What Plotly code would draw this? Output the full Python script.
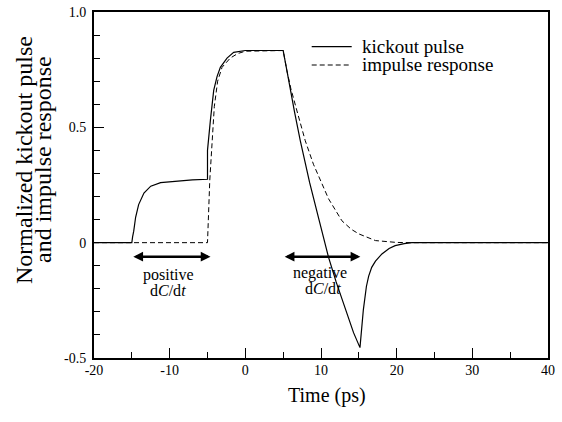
import plotly.graph_objects as go

# kickout pulse (solid)
kick_t = [-20, -15, -14.9, -14.75, -14.5, -14.1, -13.4, -12.5, -11.2, -9, -7, -5, -5,
          -4.62, -4.18, -3.74, -3.3, -2.42, -1.54, 0, 5, 5.5, 5.94, 6.5, 7.26,
          8.5, 9.75, 11, 12, 13.42, 14.3, 15.15, 15.3, 15.6, 16.0, 16.3, 16.7,
          17.2, 18.05, 19, 19.8, 21, 22, 40]
kick_v = [0, 0, 0.025, 0.05, 0.11, 0.165, 0.215, 0.245, 0.26, 0.268, 0.272, 0.275, 0.40,
          0.53, 0.66, 0.72, 0.76, 0.80, 0.825, 0.833, 0.833, 0.745, 0.659, 0.567, 0.442,
          0.26, 0.098, -0.064, -0.17, -0.309, -0.39, -0.455, -0.40, -0.29, -0.19, -0.145, -0.107,
          -0.08, -0.049, -0.025, -0.013, -0.004, 0, 0]

# impulse response (dashed)
imp_t = [-20, -5, -4.7, -4.4, -4.1, -3.66, -3.08, -2, -1, 0, 5, 5.5, 6, 7, 7.92,
         9, 9.9, 11, 12.76, 14, 15, 17.2, 20, 22, 40]
imp_v = [0, 0, 0.27, 0.44, 0.59, 0.70, 0.76, 0.80, 0.82, 0.83, 0.833, 0.745, 0.67,
         0.55, 0.442, 0.34, 0.27, 0.19, 0.095, 0.058, 0.038, 0.009, 0.001, 0, 0]

x_ticks = [-20, -10, 0, 10, 20, 30, 40]
x_ticktext = ["-20", "-10", "0", "10", "20", "30", "40"]
y_ticks = [-0.5, 0, 0.5, 1.0]
y_ticktext = ["-0.5", "0", "0.5", "1.0"]

# double arrows marking the dC/dt regions
pos_arrow = [-15, -4.6]
neg_arrow = [5, 15.2]
arrow_y = -0.061

FONT = "Liberation Serif"
W, H = 562, 422
# plot area in window pixels: x 94..548, y 12..358
X0, X1, Y0, Y1 = 94, 548, 12, 358
PW, PH = X1 - X0, Y1 - Y0


def px_x(px):
    return (px - X0) / PW


def px_y(py):
    return (Y1 - py) / PH


fig = go.Figure()
fig.add_trace(go.Scatter(x=kick_t, y=kick_v, mode="lines", name="kickout pulse",
                         line=dict(color="black", width=1.2)))
fig.add_trace(go.Scatter(x=imp_t, y=imp_v, mode="lines", name="impulse response",
                         line=dict(color="black", width=1, dash="5px,3px")))

annots = []
for a in (pos_arrow, neg_arrow):
    annots.append(dict(x=a[1], y=arrow_y, ax=a[0], ay=arrow_y, xref="x", yref="y",
                       axref="x", ayref="y", text="", showarrow=True,
                       arrowside="end+start", arrowhead=2, arrowwidth=2.6,
                       arrowsize=0.75, arrowcolor="black"))

dcdt = "d<i>C</i>/d<i>t</i>"
for txt, x, y in [("positive", -10.2, -0.139), (dcdt, -10.2, -0.208),
                  ("negative", 9.9, -0.133), (dcdt, 10.2, -0.2)]:
    annots.append(dict(x=x, y=y, xref="x", yref="y", text=txt, showarrow=False,
                       font=dict(family=FONT, size=16, color="black")))

# y axis title, two lines set close together
for txt, px in [("Normalized kickout pulse", 24), ("and impulse response", 43)]:
    annots.append(dict(x=px_x(px), y=px_y(160), xref="paper", yref="paper",
                       text=txt, textangle=-90, showarrow=False,
                       xanchor="center", yanchor="middle",
                       font=dict(family=FONT, size=24, color="black")))

# x axis title
annots.append(dict(x=px_x(327), y=px_y(396), xref="paper", yref="paper", text="Time (ps)",
                   showarrow=False, xanchor="center", yanchor="middle",
                   font=dict(family=FONT, size=20, color="black")))

# hand-drawn legend
shapes = []
for i, (txt, dash) in enumerate([("kickout pulse", "solid"), ("impulse response", "5px,3px")]):
    yy = px_y(46.7 + i * 18.3)
    shapes.append(dict(type="line", xref="paper", yref="paper", x0=px_x(311.7), x1=px_x(351.7),
                       y0=yy, y1=yy, line=dict(color="black", width=1.2, dash=dash)))
    annots.append(dict(x=px_x(360), y=yy, xref="paper", yref="paper", text=txt,
                       showarrow=False, xanchor="left", yanchor="middle",
                       font=dict(family=FONT, size=19, color="black")))

fig.update_layout(
    width=W, height=H,
    margin=dict(l=X0, r=W - X1, t=Y0, b=H - Y1, autoexpand=False),
    paper_bgcolor="white", plot_bgcolor="white",
    showlegend=False,
    font=dict(family=FONT, size=14, color="black"),
    annotations=annots, shapes=shapes,
)
fig.update_xaxes(range=[-20, 40], tickvals=x_ticks, ticktext=x_ticktext,
                 ticks="inside", ticklen=10, tickwidth=1, tickcolor="black",
                 minor=dict(dtick=5, ticks="inside", ticklen=6, tickwidth=1, tickcolor="black"),
                 showline=True, linewidth=2, linecolor="black", mirror=True,
                 showgrid=False, zeroline=False, tickfont=dict(size=14),
                 automargin=False, ticklabelstandoff=-2, ticklabeloverflow="allow")
fig.update_yaxes(range=[-0.5, 1.0], tickvals=y_ticks, ticktext=y_ticktext,
                 ticks="inside", ticklen=10, tickwidth=1, tickcolor="black",
                 minor=dict(dtick=0.1, ticks="inside", ticklen=6, tickwidth=1, tickcolor="black"),
                 showline=True, linewidth=2, linecolor="black", mirror=True,
                 showgrid=False, zeroline=False, tickfont=dict(size=14),
                 automargin=False, ticklabelstandoff=3, ticklabeloverflow="allow")

# drop the browser's default 8px body margin so the figure fills the window
fig.write_html("out.html", config={"displayModeBar": False},
               post_script="document.body.style.margin='0';")
